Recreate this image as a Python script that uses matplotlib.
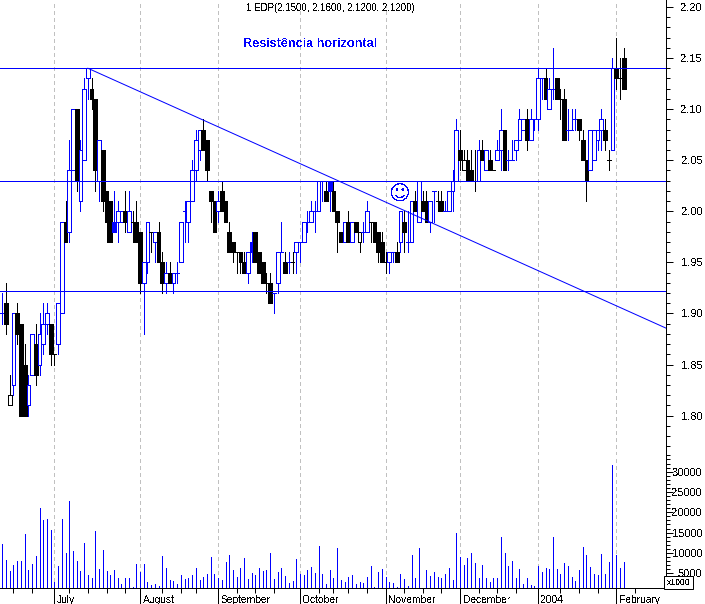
import matplotlib
matplotlib.use("Agg")
import matplotlib.pyplot as plt

plt.rcParams['font.family'] = ['Liberation Sans', 'DejaVu Sans']
plt.rcParams['text.antialiased'] = False

W, H = 705, 604

opens = [
    1.90,1.91,1.82,1.83,1.90,1.89,1.85,1.81,1.84,1.87,
    1.85,1.87,1.89,1.89,1.86,1.87,1.90,1.99,1.98,2.04,
    2.10,2.01,2.05,2.13,2.12,2.11,2.03,2.06,2.02,2.01,
    1.98,1.99,1.99,2.00,1.98,1.99,1.99,1.98,1.93,1.95,
    1.98,1.97,1.98,1.95,1.93,1.94,1.93,1.94,1.95,2.00,
    1.99,2.01,2.04,2.06,2.08,2.07,2.02,2.01,2.00,2.02,
    2.01,1.98,1.97,1.96,1.96,1.95,1.94,1.96,1.98,1.96,
    1.95,1.93,1.93,1.92,1.93,1.96,1.95,1.95,1.95,1.96,
    1.97,1.97,1.99,1.99,2.00,2.00,2.03,2.02,2.02,2.02,
    2.00,1.98,1.97,1.99,1.97,1.99,1.98,1.98,1.98,1.99,
    1.99,1.98,1.97,1.95,1.95,1.96,1.96,1.97,1.99,1.97,
    1.97,2.01,1.99,2.01,2.01,1.99,2.02,2.01,2.01,2.00,
    2.00,2.02,2.03,2.06,2.05,2.05,2.04,2.03,2.03,2.06,
    2.04,2.05,2.04,2.05,2.06,2.08,2.05,2.05,2.06,2.07,
    2.08,2.09,2.07,2.09,2.09,2.13,2.13,2.10,2.12,2.13,
    2.11,2.11,2.08,2.08,2.09,2.09,2.07,2.05,2.04,2.05,
    2.07,2.08,2.08,2.05,2.06,2.14,2.13,2.15]
highs = [
    1.92,1.93,1.84,1.90,1.91,1.89,1.87,1.84,1.88,1.89,
    1.90,1.91,1.91,1.89,1.86,1.91,1.99,2.01,2.07,2.10,
    2.10,2.07,2.13,2.14,2.13,2.11,2.07,2.06,2.02,2.01,
    2.02,2.01,2.00,2.02,2.02,2.00,2.01,1.98,1.95,1.99,
    1.98,1.98,1.99,1.96,1.95,1.95,1.94,1.95,1.99,2.01,
    2.01,2.05,2.08,2.08,2.09,2.07,2.02,2.01,2.02,2.03,
    2.01,1.99,1.97,1.96,1.96,1.96,1.96,1.98,1.98,1.96,
    1.95,1.94,1.94,1.92,1.96,1.99,1.96,1.96,1.96,1.97,
    1.97,1.99,2.00,2.01,2.01,2.03,2.03,2.03,2.03,2.03,
    2.00,1.98,1.99,2.00,1.99,1.99,1.98,1.99,2.01,1.99,
    1.99,1.98,1.98,1.96,1.96,1.96,1.97,2.00,2.00,2.00,
    2.01,2.02,2.03,2.02,2.02,2.01,2.02,2.02,2.02,2.01,
    2.02,2.04,2.09,2.08,2.06,2.06,2.06,2.06,2.07,2.07,
    2.06,2.06,2.04,2.07,2.10,2.08,2.06,2.07,2.07,2.10,
    2.09,2.10,2.10,2.09,2.14,2.13,2.14,2.13,2.16,2.13,
    2.12,2.12,2.10,2.10,2.10,2.09,2.08,2.05,2.08,2.08,
    2.08,2.10,2.09,2.06,2.15,2.17,2.15,2.16]
lows = [
    1.89,1.88,1.81,1.82,1.87,1.80,1.80,1.80,1.84,1.83,
    1.84,1.86,1.88,1.85,1.85,1.86,1.90,1.97,1.97,2.04,
    2.02,2.00,2.05,2.11,2.10,2.02,2.01,2.00,1.97,1.97,
    1.98,1.97,1.99,1.98,1.98,1.97,1.97,1.92,1.88,1.94,
    1.96,1.95,1.95,1.92,1.92,1.93,1.92,1.93,1.95,1.97,
    1.97,2.01,2.03,2.05,2.06,2.03,1.99,1.98,1.99,2.00,
    1.99,1.96,1.95,1.94,1.94,1.94,1.93,1.95,1.95,1.94,
    1.93,1.92,1.91,1.90,1.92,1.96,1.94,1.94,1.94,1.94,
    1.95,1.97,1.98,1.99,1.98,2.00,2.01,2.01,2.00,2.00,
    1.96,1.97,1.97,1.97,1.97,1.98,1.96,1.97,1.98,1.97,
    1.97,1.95,1.95,1.94,1.94,1.95,1.95,1.96,1.96,1.96,
    1.97,2.00,1.99,2.00,1.99,1.98,1.99,2.00,2.00,2.00,
    2.00,2.00,2.03,2.04,2.04,2.03,2.03,2.02,2.03,2.05,
    2.04,2.04,2.04,2.05,2.04,2.04,2.04,2.05,2.05,2.07,
    2.08,2.06,2.07,2.08,2.08,2.11,2.11,2.10,2.11,2.11,
    2.09,2.07,2.07,2.08,2.08,2.07,2.05,2.01,2.04,2.05,
    2.06,2.06,2.06,2.04,2.06,2.12,2.11,2.12]
closes = [
    1.90,1.89,1.81,1.90,1.88,1.80,1.80,1.83,1.88,1.84,
    1.88,1.89,1.90,1.86,1.86,1.91,1.99,1.97,2.04,2.10,
    2.03,2.06,2.12,2.14,2.11,2.04,2.07,2.01,1.99,1.97,
    1.99,2.00,2.00,1.99,2.00,1.99,1.97,1.93,1.95,1.99,
    1.98,1.98,1.95,1.93,1.94,1.93,1.94,1.94,1.99,2.00,
    2.01,2.04,2.07,2.08,2.06,2.04,2.01,1.98,2.01,2.00,
    1.99,1.96,1.96,1.96,1.95,1.94,1.96,1.97,1.95,1.94,
    1.93,1.93,1.91,1.92,1.96,1.96,1.94,1.95,1.95,1.97,
    1.97,1.99,1.99,2.00,2.00,2.03,2.03,2.01,2.03,2.00,
    1.99,1.97,1.99,1.97,1.99,1.98,1.97,1.98,2.00,1.99,
    1.97,1.96,1.95,1.95,1.96,1.96,1.95,2.00,1.98,1.97,
    2.01,2.00,2.03,2.00,1.99,2.01,2.02,2.01,2.00,2.00,
    2.02,2.03,2.08,2.05,2.04,2.03,2.03,2.03,2.06,2.05,
    2.06,2.04,2.04,2.06,2.08,2.04,2.05,2.05,2.07,2.09,
    2.09,2.07,2.09,2.09,2.13,2.13,2.11,2.12,2.12,2.11,
    2.11,2.07,2.08,2.08,2.09,2.08,2.05,2.03,2.08,2.08,
    2.08,2.09,2.07,2.05,2.14,2.13,2.13,2.12]
# b = blue hollow, k = black, B = blue filled, h = black hollow
kinds = ("bkhbkkkbbk" "bbbkkbbkbb" "kbbbkkbkkk" "Bbbkbkkkbb" "kbkkbkbbbb"
         "bbbbkkkkbk" "kkkkkkbBkk" "kkkbbbkbkb" "bbbbbbbkBk" "kkbkbkhbbk"
         "kkkkbbkbkb" "bkbkkbbkkb" "bbbkhkkkbk" "bkkbbkbbbb" "bkbbbbkbbk"
         "kkbbbkkkbb" "bbkkbkkk")

# volume, thousands
volume = [
    12.2,8.3,5.6,7.1,8.0,8.0,14.7,5.8,7.3,9.3,
    21.1,18.1,18.4,15.7,2.9,6.8,18.4,10.0,22.8,10.5,
    8.0,5.6,12.5,4.6,3.9,15.4,6.1,10.7,5.6,4.6,
    5.8,3.9,2.4,3.9,3.9,1.6,7.3,5.3,7.3,2.9,
    2.1,2.4,1.9,9.3,6.3,3.4,3.1,2.4,4.6,3.6,
    3.9,4.6,6.3,3.4,4.1,4.8,9.0,4.8,3.9,3.4,
    7.8,9.5,5.8,4.1,6.3,8.8,3.6,5.1,4.6,6.3,
    5.6,5.8,10.0,3.6,5.3,6.3,4.3,2.6,3.1,8.5,
    4.8,4.6,5.8,6.6,5.1,11.7,4.8,2.4,5.8,3.9,
    11.2,3.4,2.9,4.1,
    4.6,2.4,2.9,2.6,4.1,6.8,1.6,5.3,6.1,4.1,
    2.9,2.6,1.6,4.8,3.6,1.9,9.5,3.9,11.2,0.0,
    5.8,4.3,5.3,4.1,3.9,4.8,6.3,3.4,14.9,9.0,
    7.1,8.8,10.0,7.5,3.9,7.1,3.9,2.9,3.9,3.9,
    13.9,10.0,6.8,8.0,3.9,6.1,2.4,3.9,2.1,1.9,
    6.8,5.3,6.3,6.1,13.9,6.1,4.8,7.5,6.8,4.1,
    3.1,5.8,11.5,9.5,6.6,4.8,4.6,9.8,4.8,7.8,
    31.7,9.5,6.3,7.8]

month_bars = [14, 37, 58, 80, 103, 123, 144, 165]
month_labels = ["July", "August", "September", "October", "November", "December", "2004", "February"]
week_bars = [3, 8, 18, 23, 28, 33, 43, 48, 52, 63, 68, 73, 85, 89, 93, 98,
             108, 113, 118, 128, 133, 138, 150, 155, 160, 170]

price_ticks = [1.80, 1.85, 1.90, 1.95, 2.00, 2.05, 2.10, 2.15, 2.20]
price_minor = [1.77, 1.78, 1.79, 1.81, 1.82, 1.83, 1.84, 1.86, 1.87, 1.88, 1.89,
               1.91, 1.92, 1.93, 1.94, 1.96, 1.97, 1.98, 1.99, 2.01, 2.02, 2.03, 2.04,
               2.06, 2.07, 2.08, 2.09, 2.11, 2.12, 2.13, 2.14, 2.16, 2.17, 2.18, 2.19]
vol_ticks = [5, 10, 15, 20, 25, 30]

support_levels = [2.14, 2.0294, 1.9217]
trend_x = [23.0, 178.3]
trend_y = [2.14, 1.8858]

BLUE = '#0000ff'
PX = 0.72   # one pixel in points at dpi 100

fig = plt.figure(figsize=(W / 100, H / 100), dpi=100)
right = 665.7 / W
ax = fig.add_axes([0, (H - 455) / H, right, 455 / H])
axv = fig.add_axes([0, (H - 588.3) / H, right, (588.3 - 455) / H], sharex=ax)

for a in (ax, axv):
    a.patch.set_alpha(0)
    for side in ('top', 'left'):
        a.spines[side].set_visible(False)
    a.spines['right'].set_linewidth(PX)
    a.yaxis.tick_right()
    a.set_xlim(-0.626, 178.3)
    for b in month_bars:
        a.axvline(b, color='#c0c0c0', lw=PX, ls=(0, (4, 3)), zorder=0, antialiased=False)
ax.spines['bottom'].set_visible(False)
axv.spines['bottom'].set_linewidth(PX)
ax.set_ylim(1.7615, 2.2068)
axv.set_ylim(1.3, 34.1)

# candles, left to right so that later ones cover earlier ones
for i in range(len(opens)):
    kind = kinds[i]
    col = BLUE if kind in 'bB' else 'black'
    face = 'white' if kind in 'bh' else col
    ax.vlines(i, lows[i], highs[i], color=col, lw=PX, zorder=2 + i * 0.001, antialiased=False)
    ax.bar(i, closes[i] - opens[i], bottom=opens[i], width=1.0, facecolor=face, edgecolor=col,
           lw=PX, zorder=2 + i * 0.001, antialiased=False)

for lvl in support_levels:
    ax.axhline(lvl, color=BLUE, lw=PX, zorder=3, antialiased=False)
ax.plot(trend_x, trend_y, color=BLUE, lw=PX, zorder=3)

axv.vlines(range(len(volume)), 0, volume, color=BLUE, lw=PX, antialiased=False)

ax.text(106.9, 2.017, "\u263a", color=BLUE, fontsize=15, family='DejaVu Sans',
        ha='center', va='center', zorder=4)
fig.text(246 / W, 1 - 8 / H, "1 EDP(2.1500, 2.1600, 2.1200, 2.1200)", fontsize=7.0, va='center')
fig.text(243 / W, 1 - 44 / H, "Resist\u00eancia horizontal", fontsize=9.1, fontweight='bold',
         color=BLUE, va='center')

# right axes
ax.set_yticks(price_ticks, [f"{v:.2f}" for v in price_ticks])
ax.set_yticks(price_minor, minor=True)
axv.set_yticks(vol_ticks, [str(v * 1000) for v in vol_ticks])
axv.set_yticks(range(2, 35), minor=True)
for a in (ax, axv):
    a.tick_params(axis='y', which='major', length=5, width=PX, pad=21.5, labelsize=8)
    a.tick_params(axis='y', which='minor', length=2.7, width=PX)
    for lab in a.get_yticklabels():
        lab.set_ha('right')
ax.tick_params(axis='x', which='both', bottom=False, labelbottom=False)

# bottom axis
axv.set_xticks(month_bars, [""] * len(month_bars))
axv.set_xticks(week_bars, minor=True)
axv.tick_params(axis='x', which='major', length=11.5, width=PX)
axv.tick_params(axis='x', which='minor', length=3.6, width=PX)
for b, lab in zip(month_bars, month_labels):
    axv.annotate(lab, (b, 0), xycoords=axv.get_xaxis_transform(), xytext=(2, -8.5),
                 textcoords='offset points', fontsize=7.4, ha='left', va='center')

fig.text(678.5 / W, 1 - 582.8 / H, "x1000", fontsize=6.2, ha='center', va='center',
         bbox=dict(boxstyle='square,pad=0.25', facecolor='white', edgecolor='black', lw=PX))

fig.savefig("out.png", dpi=100)
